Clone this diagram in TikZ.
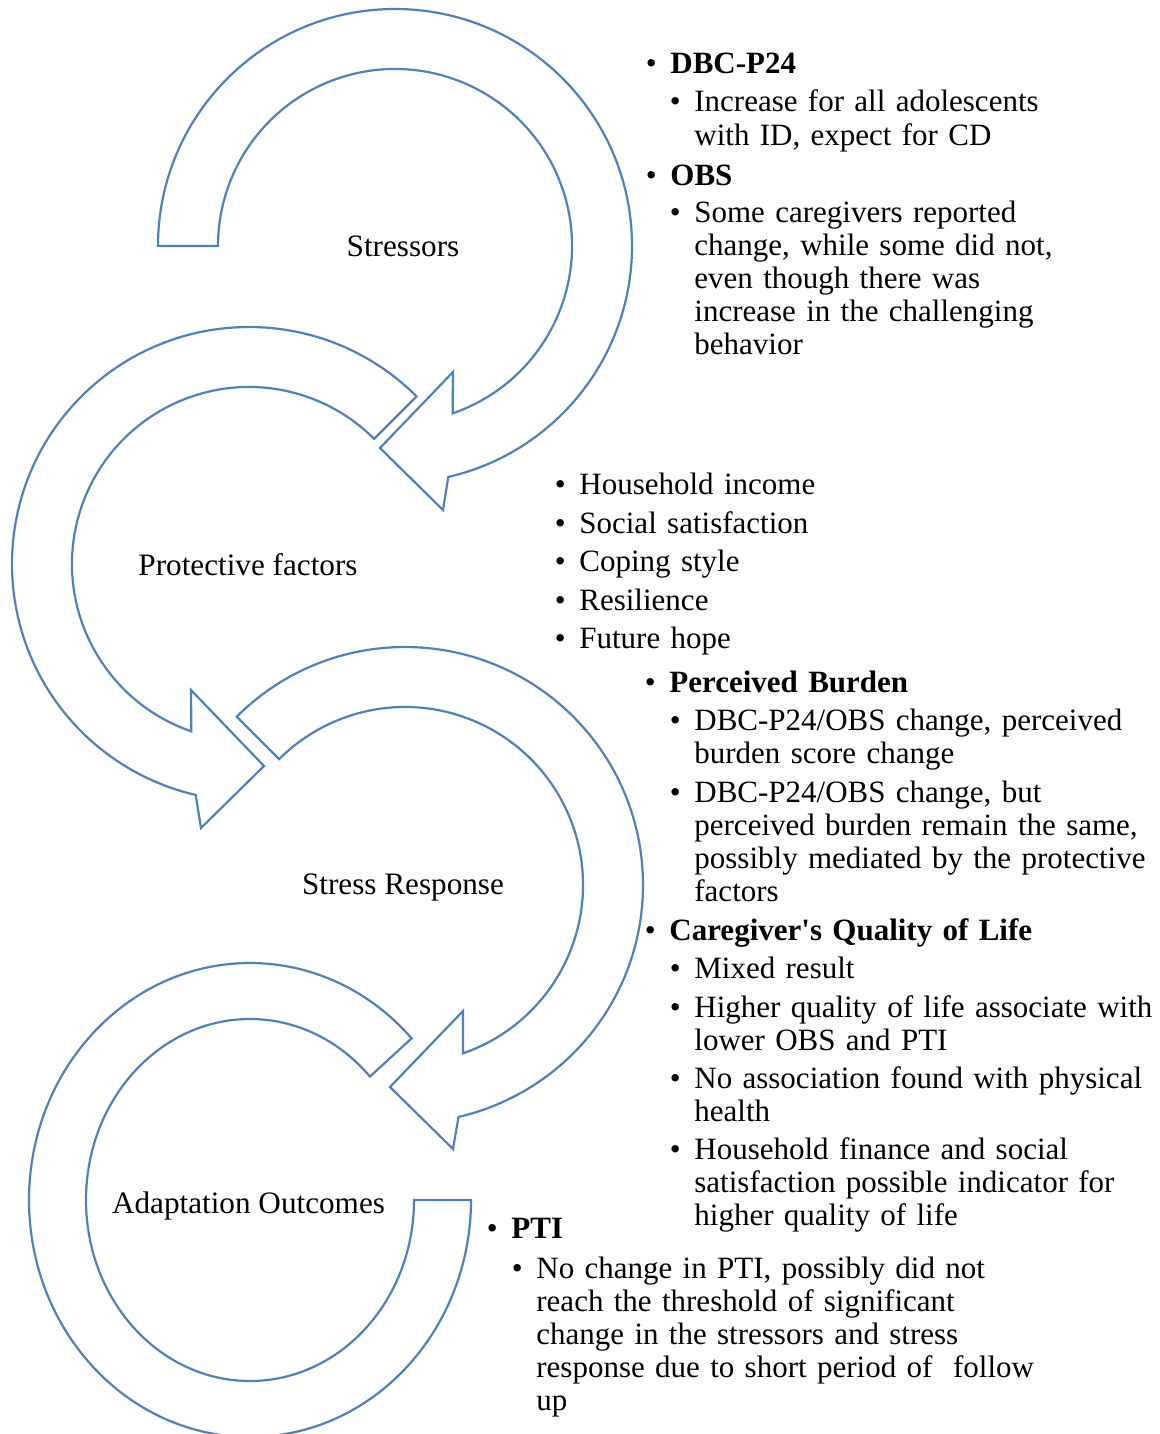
\documentclass[tikz,border=0pt]{standalone}
\usepackage{fontspec}
\setmainfont{Liberation Serif}
\definecolor{ringblue}{RGB}{79,129,189}
\newcommand{\bul}{\llap{\makebox[19pt]{\textbullet}}}

\begin{document}
\begin{tikzpicture}[x=0.5pt,y=-0.5pt,
		ring/.style={draw=ringblue,fill=white,line width=1.1pt,line join=miter},
		lbl/.style={anchor=base,inner sep=0pt,font=\fontsize{15.6}{16.6}\selectfont},
		itm/.style={anchor=base west,inner sep=0pt,text width=300pt,align=left,font=\fontsize{15.5}{16.6}\selectfont}]
		\useasboundingbox (0,0) rectangle (1160,1434);
		
		% circular arrows
		\begin{scope}[shift={(395,246)}]
		\draw[ring] (180:237) arc[start angle=180,end angle=437,radius=237] -- (48,264) -- (-15,202) -- (58,126) -- (431:177) arc[start angle=431,end angle=180,radius=177] -- cycle;
		\end{scope}
		\begin{scope}[shift={(249,564)}]
		\draw[ring] (-45:237) arc[start angle=-45,end angle=-257,radius=237] -- (-48,264) -- (15,202) -- (-58,126) -- (-251:177) arc[start angle=-251,end angle=-45,radius=177] -- cycle;
		\end{scope}
		\begin{scope}[shift={(405,885)}]
		\draw[ring] (-135:238) arc[start angle=-135,end angle=77,radius=238] -- (48,264) -- (-15,202) -- (58,126) -- (71:178) arc[start angle=71,end angle=-135,radius=178] -- cycle;
		\end{scope}
		\begin{scope}[shift={(250,1200)}]
		\draw[ring] (-43:221 and 237) arc[start angle=-43,end angle=-360,x radius=221,y radius=237] -- (164,0) arc[start angle=-360,end angle=-43,x radius=164,y radius=181] -- cycle;
		\end{scope}
		
		\node[lbl] (stressors) at (403,256) {Stressors};
		\node[lbl] (protective) at (248,575) {Protective factors};
		\node[lbl] (response) at (403,894) {Stress Response};
		\node[lbl] (outcomes) at (248.5,1213) {Adaptation Outcomes};
		
		% stressors
		\node[itm] (dbc) at (670,74) {\bul\textbf{DBC-P24}};
		\node[itm] (dbcres) at (694,112) {\bul Increase for all adolescents\\with ID, expect for CD};
		\node[itm] (obs) at (670,185) {\bul\textbf{OBS}};
		\node[itm] (obsres) at (694,222) {\bul Some caregivers reported\\change, while some did not,\\even though there was\\increase in the challenging\\behavior};
		
		% protective factors
		\foreach \T [count=\I from 0] in {Household income,Social satisfaction,Coping style,Resilience,Future hope}{
			\node[itm] (pf\I) at (579,494.5+38.6*\I) {\bul \T};
		}
		
		% stress response
		\node[itm] (burden) at (669,692) {\bul\textbf{Perceived Burden}};
		\node[itm] (burdenA) at (694,730) {\bul DBC-P24/OBS change, perceived\\burden score change};
		\node[itm] (burdenB) at (694,802) {\bul DBC-P24/OBS change, but\\perceived burden remain the same,\\possibly mediated by the protective\\factors};
		\node[itm] (qol) at (669,940) {\bul\textbf{Caregiver\textquotesingle s Quality of Life}};
		\node[itm] (qolA) at (694,978) {\bul Mixed result};
		\node[itm] (qolB) at (694,1017) {\bul Higher quality of life associate with\\lower OBS and PTI};
		\node[itm] (qolC) at (694,1088) {\bul No association found with physical\\health};
		\node[itm] (qolD) at (694,1159) {\bul Household finance and social\\satisfaction possible indicator for\\higher quality of life};
		
		% adaptation outcomes
		\node[itm] (pti) at (511,1238) {\bul\textbf{PTI}};
		\node[itm] (ptires) at (536,1278) {\bul No change in PTI, possibly did not\\reach the threshold of significant\\change in the stressors and stress\\response due to short period of\ \ follow\\up};
\end{tikzpicture}
\end{document}
